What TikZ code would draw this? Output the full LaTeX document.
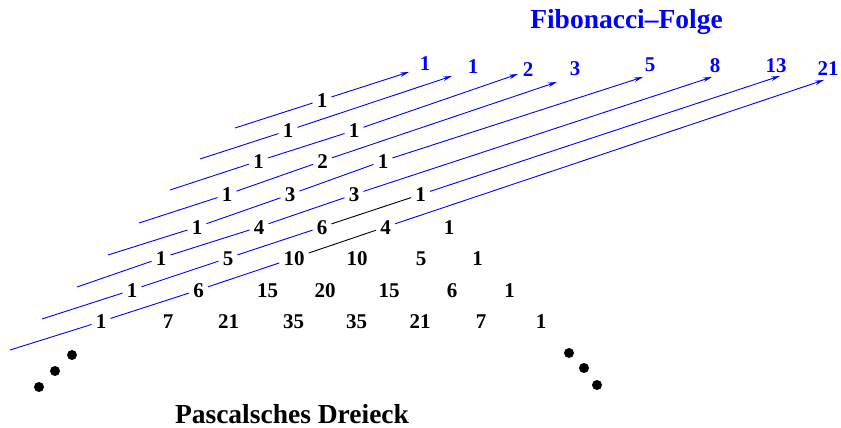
\documentclass[tikz,border=0pt]{standalone}
\usepackage{fontspec}
\setmainfont{Liberation Serif}
\usetikzlibrary{arrows.meta}
\definecolor{fib}{RGB}{0,0,255}
\begin{document}
\begin{tikzpicture}[x=1pt,y=-1pt,
  num/.style={font=\fontsize{21}{24}\selectfont\bfseries, inner xsep=4pt, inner ysep=2pt, text height=14.2pt, text depth=0pt},
  fibnum/.style={num, text=fib},
  diag/.style={draw=fib, line width=0.9pt},
  diagk/.style={draw=black, line width=0.9pt},
  tip/.style={-{Stealth[length=9pt,width=4.5pt]}},
  dot/.style={circle, fill=black, inner sep=0pt, minimum size=10pt},
  title/.style={font=\fontsize{27.5}{32}\selectfont\bfseries, anchor=base, inner sep=0pt}]
\useasboundingbox (0,0) rectangle (841,428);

% Pascal triangle
\node[num] (p00) at (322,100) {1};
\node[num] (p10) at (288,130.5) {1};
\node[num] (p11) at (354,130.5) {1};
\node[num] (p20) at (258.5,161) {1};
\node[num] (p21) at (322.5,161) {2};
\node[num] (p22) at (383,161) {1};
\node[num] (p30) at (227,194.5) {1};
\node[num] (p31) at (290,194.5) {3};
\node[num] (p32) at (354,194.5) {3};
\node[num] (p33) at (420.5,194.5) {1};
\node[num] (p40) at (197,227) {1};
\node[num] (p41) at (259,227) {4};
\node[num] (p42) at (322,227) {6};
\node[num] (p43) at (385.5,227) {4};
\node[num] (p44) at (449,227) {1};
\node[num] (p50) at (161,258) {1};
\node[num] (p51) at (228,258) {5};
\node[num] (p52) at (294,258) {10};
\node[num] (p53) at (357,258) {10};
\node[num] (p54) at (421,258) {5};
\node[num] (p55) at (477.5,258) {1};
\node[num] (p60) at (132,290) {1};
\node[num] (p61) at (198.5,290) {6};
\node[num] (p62) at (267.5,290) {15};
\node[num] (p63) at (325,290) {20};
\node[num] (p64) at (389,290) {15};
\node[num] (p65) at (452,290) {6};
\node[num] (p66) at (509.5,290) {1};
\node[num] (p70) at (101,321.5) {1};
\node[num] (p71) at (168,321.5) {7};
\node[num] (p72) at (228.5,321.5) {21};
\node[num] (p73) at (293.5,321.5) {35};
\node[num] (p74) at (356.5,321.5) {35};
\node[num] (p75) at (420,321.5) {21};
\node[num] (p76) at (481,321.5) {7};
\node[num] (p77) at (541,321.5) {1};

% Fibonacci numbers
\node[fibnum] (f0) at (425,63) {1};
\node[fibnum] (f1) at (473,66) {1};
\node[fibnum] (f2) at (528,69) {2};
\node[fibnum] (f3) at (575,68) {3};
\node[fibnum] (f4) at (650,64) {5};
\node[fibnum] (f5) at (715,65) {8};
\node[fibnum] (f6) at (776,65) {13};
\node[fibnum] (f7) at (828,68) {21};

% diagonal start and tip points
\coordinate (s0) at (235,128);
\coordinate (s1) at (200,159);
\coordinate (s2) at (170,190);
\coordinate (s3) at (139,223);
\coordinate (s4) at (108,255);
\coordinate (s5) at (77,287);
\coordinate (s6) at (42,319);
\coordinate (s7) at (10,350);
\coordinate (t0) at (409,72);
\coordinate (t1) at (452,76);
\coordinate (t2) at (518,74);
\coordinate (t3) at (557,82);
\coordinate (t4) at (643,77);
\coordinate (t5) at (712,77);
\coordinate (t6) at (780,76);
\coordinate (t7) at (824,80);

% diagonals
\draw[diag] (s0) -- (p00); \draw[diag,tip] (p00) -- (t0);
\draw[diag] (s1) -- (p10); \draw[diag,tip] (p10) -- (t1);
\draw[diag] (s2) -- (p20); \draw[diag] (p20) -- (p11); \draw[diag,tip] (p11) -- (t2);
\draw[diag] (s3) -- (p30); \draw[diag] (p30) -- (p21); \draw[diag,tip] (p21) -- (t3);
\draw[diag] (s4) -- (p40); \draw[diag] (p40) -- (p31); \draw[diag] (p31) -- (p22); \draw[diag,tip] (p22) -- (t4);
\draw[diag] (s5) -- (p50); \draw[diag] (p50) -- (p41); \draw[diag] (p41) -- (p32); \draw[diag,tip] (p32) -- (t5);
\draw[diag] (s6) -- (p60); \draw[diag] (p60) -- (p51); \draw[diag] (p51) -- (p42); \draw[diagk] (p42) -- (p33); \draw[diag,tip] (p33) -- (t6);
\draw[diag] (s7) -- (p70); \draw[diag] (p70) -- (p61); \draw[diag] (p61) -- (p52); \draw[diagk] (p52) -- (p43); \draw[diag,tip] (p43) -- (t7);

% dots
\node[dot] (d1) at (39,387) {};
\node[dot] (d2) at (55,371) {};
\node[dot] (d3) at (72,355) {};
\node[dot] (d4) at (569,353) {};
\node[dot] (d5) at (584,368) {};
\node[dot] (d6) at (597,385) {};

% titles
\node[title, text=fib] (fibt) at (626.5,29) {Fibonacci–Folge};
\node[title] (pasc) at (292,423) {Pascalsches Dreieck};
\end{tikzpicture}
\end{document}
